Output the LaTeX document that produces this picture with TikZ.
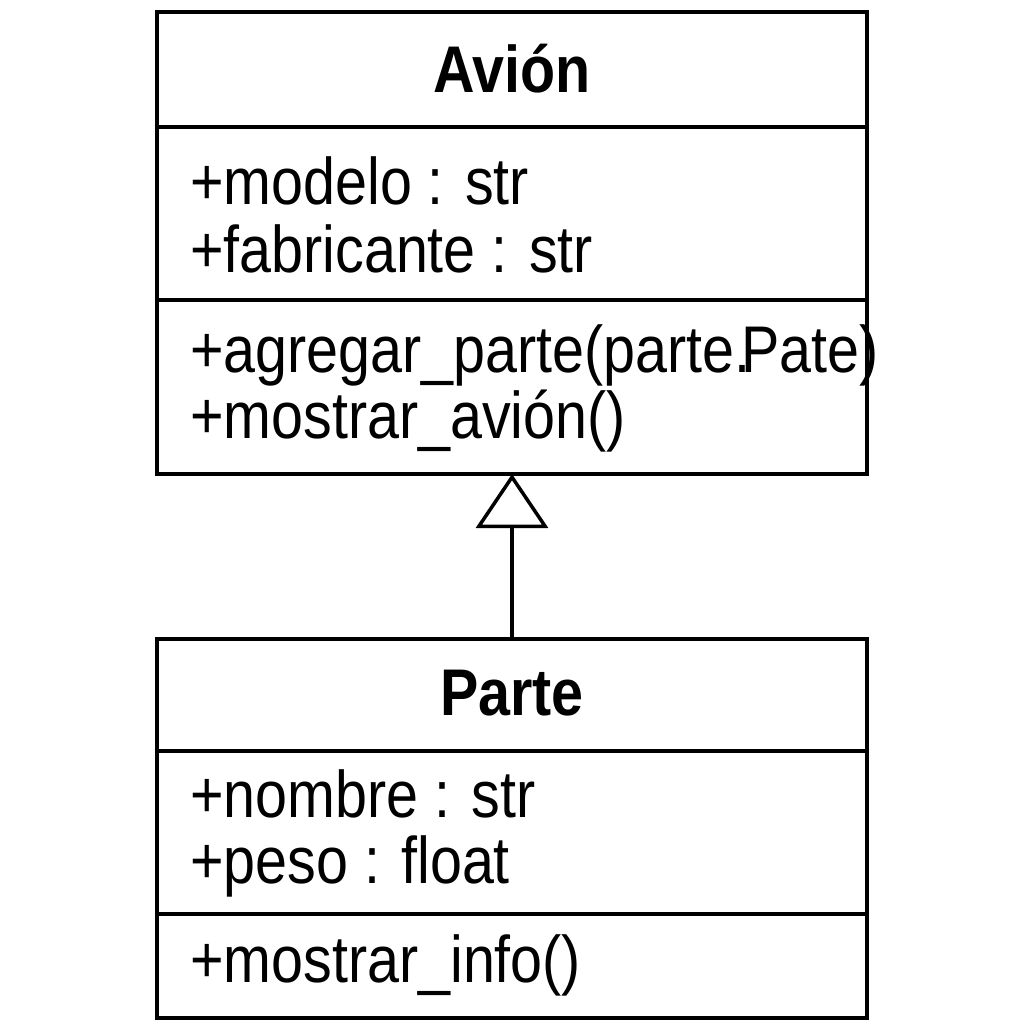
\documentclass[tikz,border=0pt]{standalone}
\usepackage{fontspec}
\setmainfont{Liberation Sans}[FakeStretch=0.87]
\usepackage{tikz}
\usetikzlibrary{arrows.meta}

\begin{document}
\begin{tikzpicture}[x=1pt,y=-1pt,
classbox/.style={draw, line width=4pt, rectangle, inner sep=0pt, outer sep=0pt, anchor=north west},
divider/.style={line width=4pt},
member/.style={anchor=base west, inner sep=0pt, font=\fontsize{66}{78}\selectfont},
classname/.style={anchor=base, inner sep=0pt, font=\fontsize{66}{78}\selectfont\bfseries}]

\useasboundingbox (0,0) rectangle (1024,1024);


\node[classbox, minimum width=710pt, minimum height=462pt] (avion) at (157,12) {};

\node[classbox, minimum width=710pt, minimum height=379pt] (parte) at (157,639) {};


\foreach \y in {127,300,751,914}
\draw[divider] (157,\y) -- (867,\y);


\node[classname] (avionname) at (512,93) {Avión};
\node[member] (modelo) at (190,205) {+modelo : str};
\node[member] (fabricante) at (190,272) {+fabricante : str};
\node[member] (agregar) at (190,372) {+agregar\_parte(parte.\kern-9pt Pate)};
\node[member] (mostraravion) at (190,438) {+mostrar\_avión()};

\node[classname] (partename) at (512,715) {Parte};
\node[member] (nombre) at (190,817) {+nombre : str};
\node[member] (peso) at (190,883) {+peso : float};
\node[member] (mostrarinfo) at (190,982) {+mostrar\_info()};


%herencia
\draw[line width=3.5pt, -{Triangle[open, length=54pt, width=72pt]}] (parte.north) -- (avion.south);

\end{tikzpicture}
\end{document}
